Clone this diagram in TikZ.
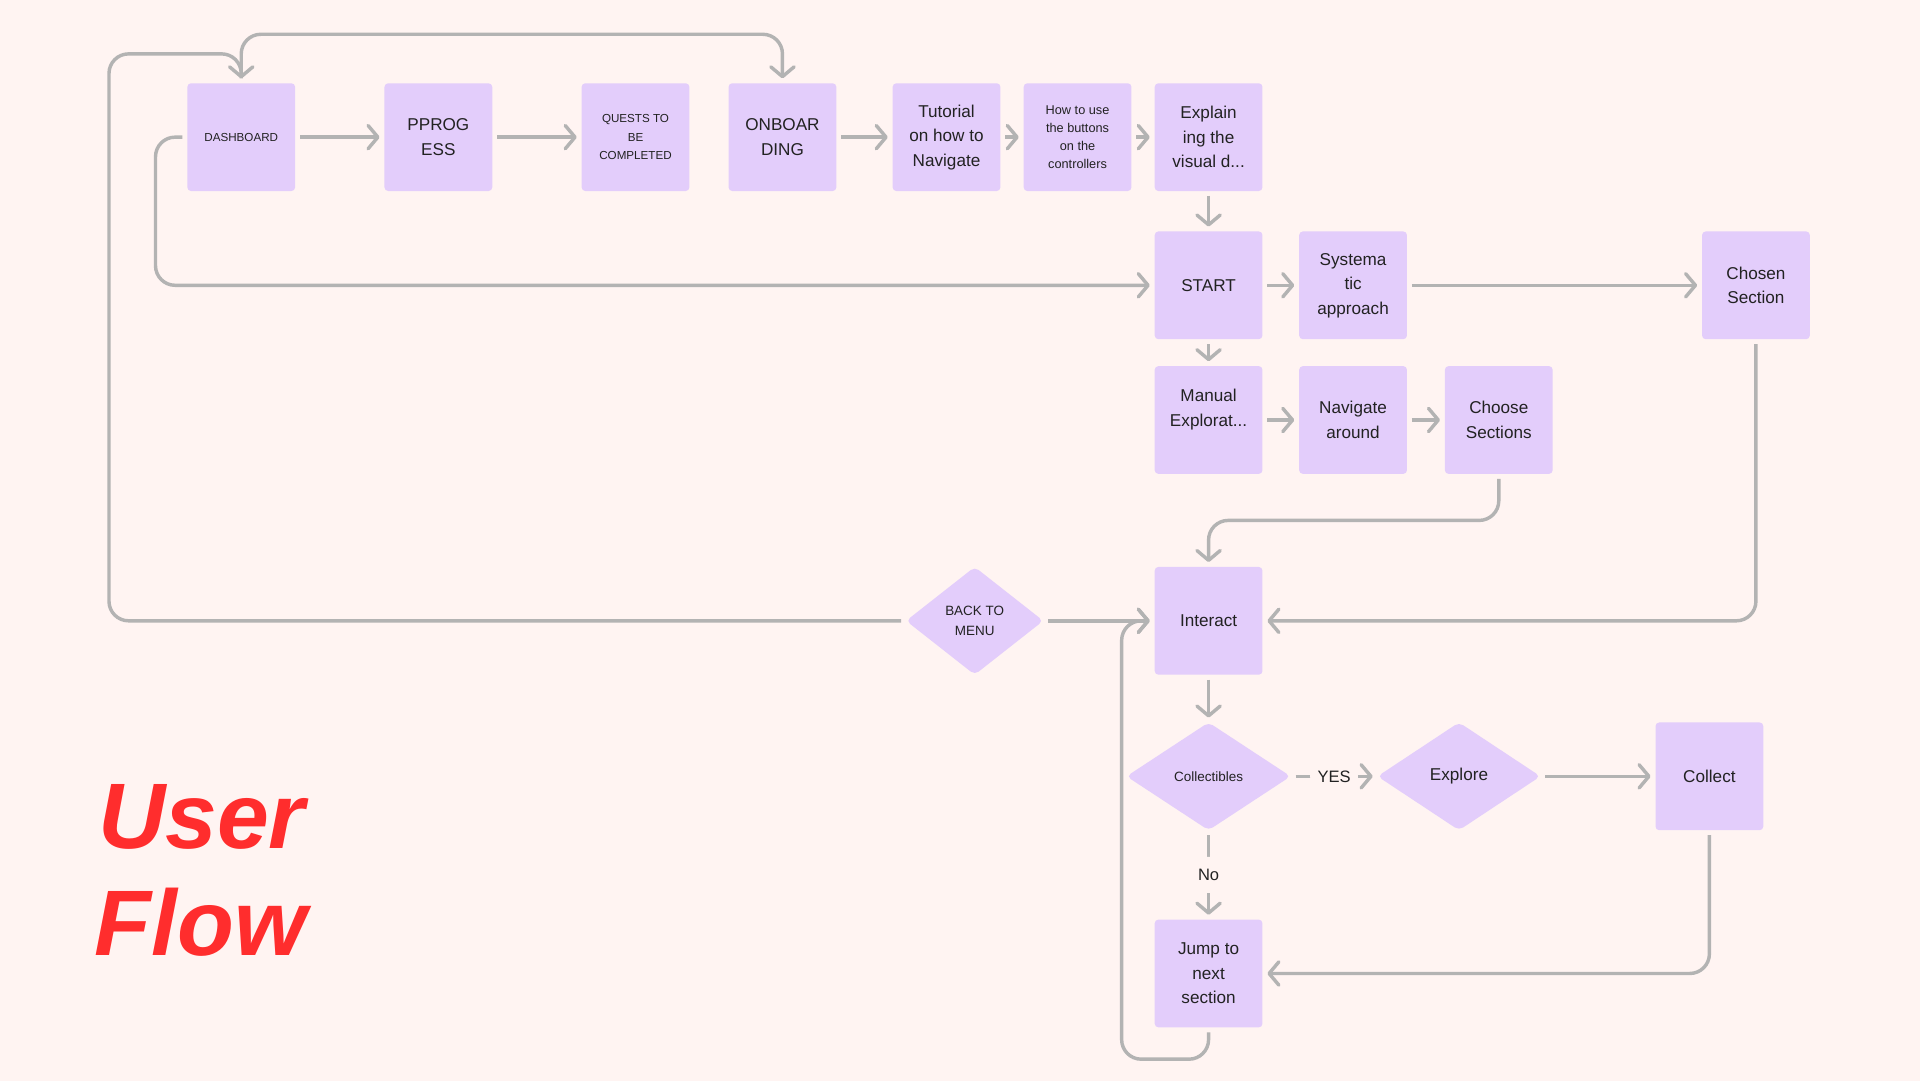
\documentclass[tikz,border=0pt]{standalone}
\usepackage{fontspec}
\setmainfont{Liberation Sans}
\usepackage{tikz}
\usetikzlibrary{arrows.meta,positioning,shapes.geometric}
\usepackage{xcolor}
\definecolor{paper}{HTML}{FFF4F2}
\definecolor{lilac}{HTML}{E3CDFB}
\definecolor{wire}{HTML}{B3B3B3}
\definecolor{ink}{HTML}{222222}
\definecolor{titlered}{HTML}{FF2D2D}

\begin{document}
\begin{tikzpicture}[x=1pt,y=-1pt,->,>={Straight Barb[length=8pt,width=19pt,round]},node distance=73pt]
\tikzstyle{box}=[rectangle,rounded corners=3pt,fill=lilac,text=ink,minimum width=88pt,minimum height=88pt,inner sep=2pt,outer sep=0pt,align=center,font=\fontsize{14}{20}\selectfont]
\tikzstyle{choice}=[diamond,rounded corners=4pt,fill=lilac,text=ink,minimum height=88pt,inner sep=0pt,outer sep=0pt,align=center,font=\fontsize{14}{20}\selectfont]
\tikzstyle{flow}=[draw=wire,line width=2.8pt,shorten >=4pt,shorten <=4pt,rounded corners=16pt]
\tikzstyle{tag}=[fill=paper,text=ink,inner xsep=6pt,inner ysep=10pt,font=\fontsize{13.5}{16}\selectfont]
\tikzstyle{heading}=[anchor=base west,inner sep=0pt,text=titlered,font=\fontsize{76}{87}\selectfont\bfseries\itshape]
\useasboundingbox (0,0) rectangle (1568,883);
\fill[paper,-] (0,0) rectangle (1568,883);

\node[box,font=\fontsize{9.5}{15}\selectfont] (dash) at (197,112) {DASHBOARD};
\node[box]         (prog) [right=of dash] {PPROG\\ESS};
\node[box,font=\fontsize{9.5}{15}\selectfont] (quests) [right=of prog] {QUESTS TO\\BE\\COMPLETED};
\node[box]         (onb) [right=32pt of quests] {ONBOAR\\DING};
\node[box]         (tut) [right=46pt of onb] {Tutorial\\on how to\\Navigate};
\node[box,font=\fontsize{10.4}{14.7}\selectfont] (how) [right=19pt of tut] {How to use\\the buttons\\on the\\controllers};
\node[box]         (expl) [right=19pt of how] {Explain\\ing the\\visual d...};
\node[box]         (start) [below=33pt of expl] {START};
\node[box]         (sys) [right=30pt of start] {Systema\\tic\\approach};
\node[box]         (chosen) [right=241pt of sys] {Chosen\\Section};
\node[box]         (manual) [below=22pt of start] {Manual\\Explorat...\\\mbox{}};
\node[box]         (nav) [right=30pt of manual] {Navigate\\around};
\node[box]         (choose) [right=31pt of nav] {Choose\\Sections};
\node[box]         (interact) [below=76pt of manual] {Interact};
\node[choice,minimum width=112pt,font=\fontsize{11}{17}\selectfont] (back) [left=91pt of interact] {BACK TO\\MENU};
\node[choice,minimum width=134pt,font=\fontsize{11}{14}\selectfont] (coll) [below=39pt of interact] {Collectibles};
\node[choice,minimum width=133pt] (explore) [right=71pt of coll] {Explore};
\node[box]         (collect) [right=94pt of explore] {Collect};
\node[box]         (jump) [below=73pt of coll] {Jump to\\next\\section};

\node[heading] (user) at (80,693) {User};
\node[heading] (flowword) at (77,780) {Flow};

\draw[flow] (dash.east) -- (prog.west);
\draw[flow] (prog.east) -- (quests.west);
\draw[flow] (onb.east) -- (tut.west);
\draw[flow] (tut.east) -- (how.west);
\draw[flow] (how.east) -- (expl.west);
\draw[flow] (expl.south) -- (start.north);
\draw[flow] (start.east) -- (sys.west);
\draw[flow] (sys.east) -- (chosen.west);
\draw[flow] (start.south) -- (manual.north);
\draw[flow] (manual.east) -- (nav.west);
\draw[flow] (nav.east) -- (choose.west);
\draw[flow] (choose.south) -- ++(0,38) -| (interact.north);
\draw[flow] (chosen.south) |- (interact.east);
\draw[flow] (back.east) -- (interact.west);
\draw[flow] (interact.south) -- (coll.north);
\draw[flow] (coll.east) -- node[tag] {YES} (explore.west);
\draw[flow] (explore.east) -- (collect.west);
\draw[flow] (coll.south) -- node[tag] {No} (jump.north);
\draw[flow] (collect.south) |- (jump.east);
\draw[flow] (jump.south) -- ++(0,26) -- ++(-71,0) |- (interact.west);
\draw[flow] (dash.west) -- ++(-26,0) |- (start.west);
\draw[flow] (back.west) -- ++(-651,0) -- ++(0,-463) -| (dash.north);
\draw[flow] (dash.north) -- ++(0,-40) -| (onb.north);
\end{tikzpicture}
\end{document}
